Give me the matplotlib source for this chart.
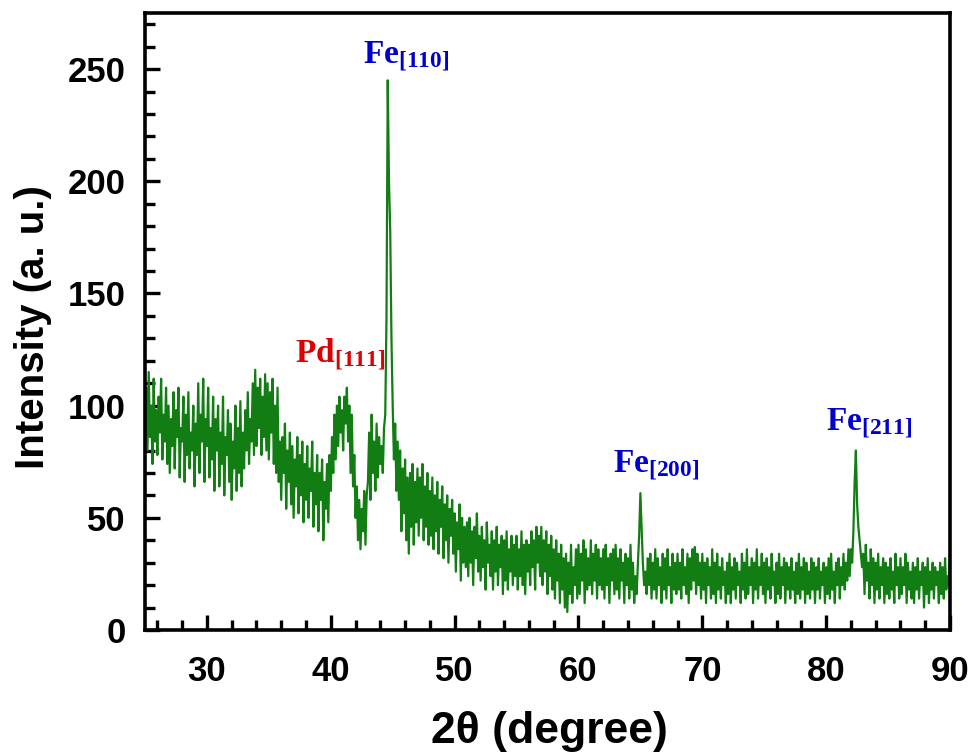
import numpy as np
import matplotlib
matplotlib.use("Agg")
import matplotlib.pyplot as plt
from matplotlib.ticker import MultipleLocator

# 2-theta grid: 25.0 .. 90.0 in 0.1 degree steps (651 points)
two_theta_start = 25.0
two_theta_end = 90.0

intensity = [
    92, 108, 80, 115, 86, 100, 74, 112, 84, 98,      # 25
    78, 104, 88, 112, 76, 96, 84, 108, 74, 100,      # 26
    70, 94, 82, 106, 72, 98, 86, 108, 68, 90,        # 27
    84, 104, 66, 96, 78, 106, 72, 88, 80, 100,       # 28
    64, 92, 78, 110, 70, 96, 84, 112, 66, 94,        # 29
    82, 108, 68, 90, 76, 104, 62, 94, 80, 100,       # 30
    64, 88, 74, 104, 60, 86, 78, 98, 66, 92,         # 31
    58, 84, 72, 100, 62, 90, 70, 102, 64, 88,        # 32
    72, 98, 80, 106, 74, 94, 84, 110, 78, 116,       # 33
    82, 108, 90, 112, 78, 104, 86, 114, 80, 110,     # 34
    76, 106, 88, 112, 74, 100, 70, 108, 66, 84,      # 35
    58, 86, 70, 92, 54, 80, 66, 88, 56, 82,          # 36
    50, 76, 64, 86, 52, 78, 60, 84, 48, 74,          # 37
    58, 82, 50, 72, 62, 84, 46, 70, 56, 78,          # 38
    44, 70, 58, 76, 40, 66, 54, 74, 48, 78,          # 39
    62, 86, 70, 96, 76, 100, 82, 104, 88, 98,        # 40
    80, 104, 92, 108, 84, 100, 70, 96, 64, 78,       # 41
    50, 64, 40, 58, 36, 54, 44, 62, 38, 60,          # 42
    66, 88, 58, 96, 70, 84, 62, 92, 68, 86,          # 43
    74, 82, 70, 90, 96, 140, 245, 200, 178, 130,     # 44
    100, 76, 92, 62, 84, 58, 80, 44, 72, 52,         # 45
    76, 40, 68, 34, 70, 46, 74, 38, 66, 48,          # 46
    72, 42, 68, 50, 74, 40, 64, 46, 70, 38,          # 47
    62, 42, 68, 36, 60, 44, 66, 34, 58, 46,          # 48
    64, 32, 56, 40, 60, 30, 54, 42, 58, 34,          # 49
    52, 26, 48, 36, 56, 22, 50, 30, 46, 28,          # 50
    48, 24, 50, 30, 44, 20, 46, 32, 52, 26,          # 51
    42, 22, 46, 28, 40, 18, 48, 30, 38, 24,          # 52
    44, 18, 40, 26, 46, 20, 38, 28, 42, 16,          # 53
    40, 22, 44, 18, 36, 26, 42, 20, 38, 24,          # 54
    42, 18, 36, 24, 44, 20, 38, 16, 40, 26,          # 55
    38, 20, 44, 28, 40, 18, 46, 30, 42, 24,          # 56
    46, 20, 40, 26, 44, 16, 38, 24, 42, 18,          # 57
    36, 14, 40, 22, 34, 12, 38, 18, 32, 10,          # 58
    34, 8, 30, 16, 38, 12, 28, 20, 36, 14,           # 59
    38, 16, 34, 22, 40, 12, 36, 18, 32, 20,          # 60
    40, 16, 34, 22, 38, 14, 36, 20, 32, 18,          # 61
    36, 14, 38, 20, 32, 12, 34, 22, 36, 16,          # 62
    38, 18, 32, 14, 36, 22, 30, 12, 34, 20,          # 63
    32, 14, 38, 18, 30, 12, 24, 16, 30, 42,          # 64
    61, 46, 30, 20, 26, 16, 32, 20, 34, 14,          # 65
    30, 18, 36, 14, 32, 20, 28, 12, 34, 18,          # 66
    32, 14, 36, 20, 28, 12, 34, 18, 30, 16,          # 67
    34, 18, 30, 14, 36, 20, 28, 16, 34, 12,          # 68
    32, 18, 36, 22, 37, 16, 34, 20, 30, 14,          # 69
    34, 18, 30, 12, 32, 20, 28, 14, 36, 16,          # 70
    30, 12, 34, 18, 28, 14, 32, 20, 26, 12,          # 71
    30, 16, 34, 12, 28, 18, 32, 14, 30, 20,          # 72
    26, 12, 34, 18, 30, 14, 36, 16, 28, 20,          # 73
    32, 12, 30, 18, 36, 14, 28, 20, 34, 16,          # 74
    30, 12, 32, 18, 28, 14, 34, 20, 26, 12,          # 75
    30, 16, 34, 14, 28, 20, 32, 12, 30, 18,          # 76
    28, 14, 32, 18, 26, 12, 30, 16, 34, 14,          # 77
    28, 18, 32, 12, 30, 16, 26, 14, 32, 18,          # 78
    30, 12, 28, 18, 32, 14, 26, 20, 30, 12,          # 79
    28, 16, 32, 14, 34, 18, 26, 12, 30, 20,          # 80
    32, 14, 28, 20, 34, 18, 30, 22, 36, 24,          # 81
    36, 30, 44, 66, 80, 56, 46, 40, 34, 28,          # 82
    34, 16, 38, 22, 30, 14, 36, 20, 32, 12,          # 83
    30, 18, 34, 14, 28, 20, 32, 12, 30, 16,          # 84
    28, 14, 32, 18, 26, 12, 34, 20, 28, 14,          # 85
    32, 16, 28, 20, 34, 12, 30, 18, 26, 14,          # 86
    30, 12, 28, 18, 32, 14, 26, 20, 30, 10,          # 87
    28, 16, 32, 12, 26, 18, 30, 14, 28, 20,          # 88
    26, 12, 30, 16, 28, 14, 32, 18, 24, 20,          # 89
    34,                                              # 90
]

two_theta = np.linspace(two_theta_start, two_theta_end, len(intensity))

peak_labels = ["Fe", "Pd", "Fe", "Fe"]
peak_planes = ["[110]", "[111]", "[200]", "[211]"]
peak_label_x = [42.6, 37.1, 62.8, 80.0]
peak_label_y = [252.5, 119, 70, 89]
peak_colors = ["#0000cc", "#dd0000", "#0000cc", "#0000cc"]

plt.rcParams["mathtext.fontset"] = "custom"
plt.rcParams["mathtext.bf"] = "Liberation Serif:bold"
plt.rcParams["mathtext.rm"] = "Liberation Serif"

fig = plt.figure(figsize=(9.75, 7.56), dpi=100)
ax = fig.add_axes([145/975, 1-630/756, 805/975, 617/756])

ax.plot(two_theta, intensity, color="#127d12", lw=1.6)

for lab, plane, lx, ly, c in zip(peak_labels, peak_planes, peak_label_x, peak_label_y, peak_colors):
    ax.text(lx, ly, r"$\mathbf{%s_{%s}}$" % (lab, plane), color=c, fontsize=24,
            ha="left", va="baseline")

ax.set_xlim(25, 90)
ax.set_ylim(0, 275)
ax.xaxis.set_minor_locator(MultipleLocator(2))
ax.yaxis.set_minor_locator(MultipleLocator(10))
ax.set_xticks([30, 40, 50, 60, 70, 80, 90])
ax.set_yticks([0, 50, 100, 150, 200, 250])

for s in ax.spines.values():
    s.set_linewidth(2.6)

ax.tick_params(which="both", direction="in", top=False, right=False, width=2.4)
ax.tick_params(which="major", length=11, labelsize=25)
ax.tick_params(axis="y", which="major", pad=14)
ax.tick_params(axis="x", which="major", pad=18)
ax.tick_params(which="minor", length=7)

for t in ax.get_xticklabels() + ax.get_yticklabels():
    t.set_fontfamily("Liberation Sans")
    t.set_fontweight("bold")

ax.set_xlabel("2θ (degree)", fontsize=32, fontweight="bold", family="Liberation Sans")
ax.set_ylabel("Intensity (a. u.)", fontsize=29, fontweight="bold", family="Liberation Sans")
ax.xaxis.set_label_coords(0.503, -0.131)
ax.yaxis.set_label_coords(-0.1155, 0.491)

fig.savefig("out.png", dpi=100)
